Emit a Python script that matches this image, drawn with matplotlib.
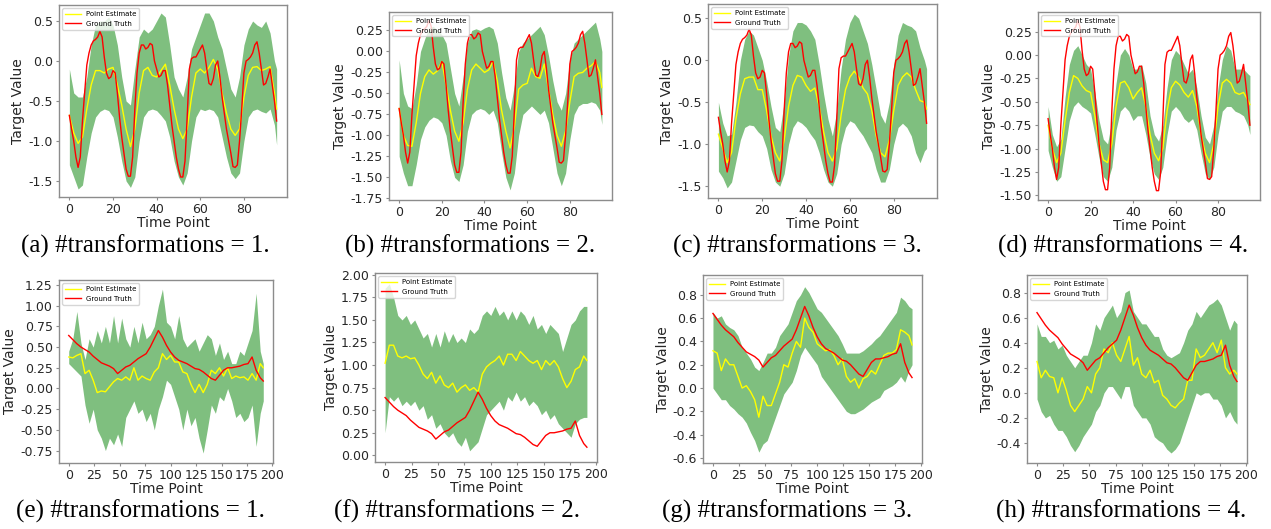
import matplotlib
matplotlib.use("Agg")
import matplotlib.pyplot as plt
from matplotlib.ticker import MultipleLocator, FormatStrFormatter

# time axes
t_top = list(range(0, 95, 2)) + [95]
t_top_gt = list(range(96))
t_bot = list(range(0, 189, 4)) + [191]

# ground truth, top row (shared by a-d)
gt_top = [-0.68, -0.85, -1.0, -1.2, -1.33, -1.2, -0.75, -0.4, -0.05, 0.1,
          0.2, 0.25, 0.27, 0.3, 0.37, 0.3, 0.05, -0.15, -0.22, -0.2,
          -0.12, -0.15, -0.4, -0.7, -0.95, -1.15, -1.35, -1.44, -1.44, -1.2,
          -0.6, -0.15, 0.1, 0.2, 0.2, 0.15, 0.17, 0.22, 0.2, 0.0,
          -0.1, -0.2, -0.18, -0.12, -0.12, -0.3, -0.55, -0.8, -1.0, -1.2,
          -1.35, -1.45, -1.45, -1.25, -0.7, -0.1, 0.03, 0.05, 0.05, 0.1,
          0.15, 0.2, 0.1, -0.1, -0.28, -0.3, -0.22, -0.05, 0.0, -0.2,
          -0.45, -0.65, -0.85, -1.0, -1.15, -1.32, -1.33, -1.3, -1.0, -0.6,
          -0.15, 0.0, 0.02, 0.05, 0.1, 0.2, 0.24, 0.1, -0.1, -0.3,
          -0.28, -0.2, -0.1, -0.3, -0.5, -0.75]

# ground truth, bottom row (shared by e-h)
gt_bot = [0.64, 0.59, 0.54, 0.5, 0.47, 0.44, 0.39, 0.35, 0.31, 0.29,
          0.27, 0.24, 0.18, 0.22, 0.26, 0.28, 0.32, 0.36, 0.39, 0.42,
          0.5, 0.6, 0.7, 0.62, 0.52, 0.44, 0.38, 0.34, 0.32, 0.3,
          0.27, 0.24, 0.23, 0.2, 0.16, 0.12, 0.1, 0.16, 0.22, 0.25,
          0.25, 0.26, 0.27, 0.29, 0.3, 0.38, 0.22, 0.13, 0.09]

# (a)
a_mean = [-0.68, -0.9, -1.03, -0.95, -0.6, -0.3, -0.12, -0.12, -0.15, -0.1,
          -0.08, -0.3, -0.55, -0.85, -1.07, -0.85, -0.4, -0.12, -0.08, -0.18,
          -0.2, -0.12, -0.04, -0.3, -0.6, -0.85, -0.97, -0.85, -0.45, -0.15,
          -0.1, -0.15, -0.08, 0.02, -0.1, -0.4, -0.65, -0.85, -0.93, -0.85,
          -0.45, -0.18, -0.08, -0.07, -0.12, -0.1, -0.07, -0.4, -0.6]
a_high = [-0.1, -0.4, -0.45, -0.45, -0.2, 0.2, 0.45, 0.5, 0.5, 0.55,
          0.45, 0.2, -0.2, -0.5, -0.55, -0.1, 0.3, 0.4, 0.35, 0.4,
          0.5, 0.6, 0.55, 0.2, -0.2, -0.35, -0.45, -0.2, 0.15, 0.3,
          0.45, 0.6, 0.6, 0.5, 0.3, 0.15, -0.1, -0.35, -0.45, -0.2,
          0.2, 0.4, 0.5, 0.45, 0.42, 0.5, 0.35, 0.0, -0.1]
a_low = [-1.3, -1.45, -1.6, -1.55, -1.2, -0.9, -0.7, -0.63, -0.6, -0.62,
         -0.7, -0.95, -1.25, -1.5, -1.58, -1.45, -1.0, -0.7, -0.62, -0.6,
         -0.62, -0.68, -0.75, -0.95, -1.25, -1.45, -1.55, -1.4, -1.0, -0.7,
         -0.6, -0.62, -0.6, -0.62, -0.7, -0.95, -1.2, -1.4, -1.47, -1.4,
         -1.0, -0.7, -0.62, -0.6, -0.63, -0.65, -0.6, -0.8, -1.05]

# (b)
b_mean = [-0.68, -1.0, -1.12, -1.13, -0.85, -0.5, -0.3, -0.22, -0.27, -0.23,
          -0.12, -0.4, -0.7, -0.95, -1.07, -0.85, -0.45, -0.22, -0.15, -0.2,
          -0.25, -0.22, -0.12, -0.35, -0.7, -0.95, -1.15, -0.9, -0.45, -0.4,
          -0.38, -0.2, -0.3, -0.32, -0.15, -0.45, -0.75, -1.0, -1.13, -0.95,
          -0.6, -0.3, -0.26, -0.25, -0.2, -0.17, -0.12, -0.25, -0.43]
b_high = [-0.1, -0.5, -0.65, -0.68, -0.4, 0.0, 0.15, 0.28, 0.3, 0.25,
          0.2, 0.1, -0.2, -0.5, -0.65, -0.3, 0.1, 0.25, 0.27, 0.25,
          0.28, 0.3, 0.27, 0.1, -0.25, -0.55, -0.7, -0.4, 0.0, 0.1,
          0.15, 0.2, 0.25, 0.3, 0.2, -0.05, -0.35, -0.6, -0.7, -0.5,
          -0.1, 0.1, 0.15, 0.2, 0.25, 0.3, 0.35, 0.15, 0.0]
b_low = [-1.25, -1.45, -1.6, -1.6, -1.35, -1.05, -0.9, -0.82, -0.78, -0.8,
         -0.85, -1.0, -1.3, -1.5, -1.55, -1.35, -0.95, -0.75, -0.7, -0.68,
         -0.7, -0.75, -0.7, -0.85, -1.2, -1.5, -1.65, -1.45, -1.0, -0.75,
         -0.7, -0.65, -0.7, -0.75, -0.7, -0.85, -1.15, -1.45, -1.6, -1.45,
         -1.05, -0.75, -0.65, -0.62, -0.62, -0.6, -0.62, -0.7, -0.87]

# (c)
c_mean = [-0.88, -1.05, -1.22, -1.1, -0.7, -0.4, -0.22, -0.2, -0.2, -0.35,
          -0.35, -0.6, -0.9, -1.1, -1.2, -0.95, -0.55, -0.3, -0.18, -0.2,
          -0.3, -0.37, -0.33, -0.55, -0.85, -1.1, -1.2, -1.05, -0.65, -0.35,
          -0.2, -0.13, -0.2, -0.33, -0.4, -0.6, -0.9, -1.1, -1.15, -0.95,
          -0.6, -0.3, -0.2, -0.15, -0.2, -0.35, -0.48, -0.5, -0.58]
c_high = [-0.5, -0.75, -0.9, -0.88, -0.5, 0.0, 0.25, 0.35, 0.3, 0.15,
          0.0, -0.25, -0.55, -0.8, -0.85, -0.5, 0.05, 0.35, 0.45, 0.45,
          0.42, 0.35, 0.25, -0.05, -0.4, -0.7, -0.9, -0.6, -0.1, 0.25,
          0.45, 0.55, 0.5, 0.35, 0.2, -0.05, -0.35, -0.65, -0.75, -0.5,
          -0.05, 0.3, 0.45, 0.42, 0.4, 0.35, 0.15, 0.0, -0.1]
c_low = [-1.32, -1.4, -1.52, -1.45, -1.2, -0.95, -0.8, -0.77, -0.78, -0.85,
         -0.9, -1.05, -1.3, -1.45, -1.5, -1.35, -1.0, -0.8, -0.72, -0.75,
         -0.8, -0.88, -0.95, -1.1, -1.3, -1.45, -1.5, -1.35, -1.0, -0.8,
         -0.72, -0.75, -0.83, -0.9, -1.0, -1.1, -1.3, -1.45, -1.45, -1.3,
         -1.0, -0.8, -0.75, -0.8, -0.9, -1.1, -1.22, -1.08, -1.05]

# (d)
d_mean = [-0.75, -1.0, -1.15, -1.05, -0.7, -0.4, -0.22, -0.25, -0.33, -0.38,
          -0.4, -0.65, -0.95, -1.12, -1.15, -0.95, -0.55, -0.3, -0.28, -0.35,
          -0.47, -0.4, -0.35, -0.55, -0.85, -1.05, -1.13, -1.0, -0.6, -0.35,
          -0.28, -0.32, -0.4, -0.45, -0.38, -0.55, -0.85, -1.05, -1.15, -0.95,
          -0.55, -0.3, -0.26, -0.3, -0.4, -0.42, -0.4, -0.48, -0.53]
d_high = [-0.55, -0.85, -0.98, -0.9, -0.45, -0.1, 0.05, 0.1, 0.0, -0.1,
          -0.15, -0.4, -0.7, -0.9, -0.95, -0.7, -0.3, 0.0, 0.07, 0.0,
          -0.15, -0.15, -0.1, -0.3, -0.65, -0.85, -0.92, -0.75, -0.35, -0.05,
          0.05, 0.0, -0.1, -0.2, -0.15, -0.35, -0.65, -0.88, -0.95, -0.75,
          -0.35, -0.05, 0.1, 0.05, -0.15, -0.15, -0.15, -0.2, -0.22]
d_low = [-1.02, -1.2, -1.35, -1.3, -1.0, -0.7, -0.55, -0.5, -0.55, -0.58,
         -0.62, -0.85, -1.1, -1.3, -1.35, -1.2, -0.8, -0.6, -0.55, -0.6,
         -0.7, -0.65, -0.65, -0.85, -1.1, -1.27, -1.33, -1.2, -0.85, -0.6,
         -0.55, -0.6, -0.68, -0.72, -0.68, -0.8, -1.05, -1.27, -1.33, -1.2,
         -0.85, -0.6, -0.55, -0.55, -0.6, -0.62, -0.65, -0.75, -0.85]

# (e)
e_mean = [0.38, 0.37, 0.4, 0.42, 0.18, 0.22, 0.1, -0.05, -0.03, -0.04,
          0.02, 0.08, 0.12, 0.1, 0.14, 0.1, 0.25, 0.1, 0.15, 0.12,
          0.1, 0.2, 0.25, 0.42, 0.35, 0.4, 0.32, 0.32, 0.2, 0.18,
          0.05, -0.05, 0.05, -0.05, 0.05, 0.22, 0.18, 0.25, 0.15, 0.25,
          0.12, 0.15, 0.13, 0.14, 0.1, 0.18, 0.1, 0.3, 0.25]
e_high = [0.45, 0.6, 0.93, 0.55, 0.35, 0.6, 0.5, 0.7, 0.55, 0.75,
          0.55, 0.88, 0.55, 0.85, 0.6, 0.5, 0.75, 0.55, 0.8, 0.6,
          0.65, 0.75, 1.0, 1.2, 0.8, 0.75, 0.6, 0.88, 0.6, 0.5,
          0.55, 0.6, 0.45, 0.55, 0.65, 0.6, 0.4, 0.55, 0.35, 0.45,
          0.3, 0.3, 0.45, 0.4, 0.55, 0.7, 1.15, 0.45, 0.3]
e_low = [0.3, 0.25, 0.2, 0.15, -0.2, -0.42, -0.25, -0.5, -0.6, -0.75,
         -0.6, -0.68, -0.55, -0.7, -0.35, -0.25, -0.15, -0.3, -0.25, -0.4,
         -0.3, -0.5, -0.25, -0.1, 0.1, 0.05, -0.1, -0.25, -0.5, -0.25,
         -0.45, -0.35, -0.6, -0.78, -0.5, -0.2, -0.3, -0.1, -0.15, 0.0,
         -0.15, -0.35, -0.3, -0.4, -0.35, -0.2, -0.7, -0.3, -0.15]

# (f)
f_mean = [1.02, 1.22, 1.22, 1.1, 1.08, 1.1, 1.07, 1.08, 1.0, 0.9,
          0.85, 0.92, 0.8, 0.88, 0.78, 0.75, 0.8, 0.7, 0.75, 0.78,
          0.72, 0.75, 0.7, 0.9, 0.98, 1.02, 1.05, 1.1, 1.0, 1.12,
          1.12, 1.05, 1.15, 1.1, 1.05, 1.02, 1.05, 0.95, 1.05, 1.0,
          1.05, 0.98, 0.85, 0.75, 0.82, 0.95, 0.98, 1.1, 1.05]
f_high = [1.85, 1.9, 1.75, 1.55, 1.5, 1.55, 1.45, 1.5, 1.4, 1.3,
          1.35, 1.2, 1.35, 1.2, 1.38, 1.25, 1.35, 1.25, 1.3, 1.25,
          1.4, 1.35, 1.4, 1.55, 1.6, 1.55, 1.65, 1.55, 1.6, 1.5,
          1.6, 1.5, 1.6, 1.55, 1.45, 1.55, 1.4, 1.45, 1.35, 1.45,
          1.4, 1.35, 1.15, 1.3, 1.45, 1.5, 1.6, 1.65, 1.65]
f_low = [0.25, 0.65, 0.6, 0.65, 0.55, 0.6, 0.55, 0.6, 0.5, 0.55,
         0.4, 0.45, 0.3, 0.35, 0.25, 0.2, 0.25, 0.15, 0.1, 0.2,
         0.05, 0.1, 0.15, 0.3, 0.45, 0.5, 0.55, 0.6, 0.5, 0.65,
         0.6, 0.7, 0.6, 0.65, 0.55, 0.6, 0.55, 0.45, 0.5, 0.4,
         0.45, 0.35, 0.3, 0.25, 0.2, 0.35, 0.4, 0.42, 0.42]

# (g)
g_mean = [0.32, 0.3, 0.15, 0.25, 0.2, 0.2, 0.1, 0.0, 0.02, -0.03,
          -0.1, -0.25, -0.07, -0.15, -0.15, -0.05, 0.05, 0.2, 0.18, 0.3,
          0.4, 0.35, 0.6, 0.52, 0.48, 0.38, 0.35, 0.32, 0.33, 0.28,
          0.2, 0.25, 0.1, 0.05, 0.08, 0.0, 0.08, 0.1, 0.15, 0.12,
          0.2, 0.28, 0.3, 0.3, 0.33, 0.5, 0.48, 0.45, 0.37]
g_high = [0.65, 0.6, 0.62, 0.55, 0.52, 0.5, 0.45, 0.35, 0.3, 0.25,
          0.18, 0.15, 0.22, 0.3, 0.3, 0.35, 0.45, 0.5, 0.55, 0.65,
          0.75, 0.8, 0.87, 0.82, 0.75, 0.68, 0.65, 0.6, 0.55, 0.5,
          0.45, 0.38, 0.3, 0.3, 0.3, 0.3, 0.32, 0.35, 0.38, 0.42,
          0.45, 0.5, 0.55, 0.6, 0.65, 0.78, 0.75, 0.7, 0.68]
g_low = [0.0, -0.05, -0.1, -0.1, -0.15, -0.18, -0.22, -0.25, -0.3, -0.38,
         -0.45, -0.55, -0.48, -0.45, -0.35, -0.25, -0.15, -0.05, 0.0, 0.05,
         0.15, 0.28, 0.35, 0.3, 0.25, 0.2, 0.1, 0.05, 0.0, -0.05,
         -0.1, -0.15, -0.2, -0.22, -0.22, -0.2, -0.18, -0.15, -0.12, -0.1,
         -0.08, -0.02, 0.0, 0.02, 0.05, 0.1, 0.05, 0.15, 0.2]

# (h)
h_mean = [0.25, 0.12, 0.18, 0.13, 0.12, 0.0, 0.12, 0.02, -0.1, -0.15,
          -0.1, -0.05, 0.05, 0.0, 0.15, 0.2, 0.35, 0.32, 0.4, 0.3,
          0.25, 0.35, 0.45, 0.22, 0.28, 0.15, 0.12, 0.18, 0.08, 0.1,
          -0.02, -0.05, -0.1, -0.12, -0.08, -0.05, 0.1, 0.1, 0.35, 0.28,
          0.3, 0.35, 0.4, 0.32, 0.42, 0.2, 0.15, 0.18, 0.15]
h_high = [0.55, 0.45, 0.45, 0.4, 0.42, 0.35, 0.38, 0.3, 0.25, 0.2,
          0.25, 0.3, 0.3, 0.4, 0.55, 0.5, 0.6, 0.65, 0.7, 0.6,
          0.65, 0.8, 0.82, 0.65, 0.6, 0.55, 0.55, 0.5, 0.45, 0.45,
          0.35, 0.3, 0.28, 0.3, 0.32, 0.4, 0.5, 0.55, 0.65, 0.6,
          0.65, 0.7, 0.72, 0.75, 0.7, 0.6, 0.5, 0.58, 0.55]
h_low = [-0.05, -0.15, -0.2, -0.18, -0.25, -0.3, -0.3, -0.35, -0.42, -0.47,
         -0.42, -0.35, -0.3, -0.25, -0.15, -0.1, 0.0, 0.05, 0.05, 0.0,
         -0.05, 0.05, 0.05, -0.1, -0.15, -0.2, -0.2, -0.25, -0.35, -0.38,
         -0.4, -0.45, -0.48, -0.45, -0.4, -0.3, -0.2, -0.1, 0.0, -0.02,
         0.0, 0.0, -0.05, -0.05, -0.1, -0.2, -0.15, -0.22, -0.25]

captions = ["(a) #transformations = 1.", "(b) #transformations = 2.",
            "(c) #transformations = 3.", "(d) #transformations = 4.",
            "(e) #transformations = 1.", "(f) #transformations = 2.",
            "(g) #transformations = 3.", "(h) #transformations = 4."]

W, H = 1271, 529

# axes boxes in pixels: left, top, right, bottom
boxes = [(59, 5, 287, 197), (389, 12, 612, 200), (708, 4, 937, 198), (1038, 12, 1260, 200),
         (59, 280, 273, 463), (375, 273, 597, 462), (703, 275, 922, 463), (1027, 275, 1247, 463)]
cap_pos = [(145, 246), (470, 246), (797, 246), (1123, 246),
           (140, 511), (457, 511), (787, 511), (1121, 511)]
ylims = [(-1.70, 0.70), (-1.77, 0.47), (-1.64, 0.67), (-1.55, 0.46),
         (-0.90, 1.31), (-0.074, 2.02), (-0.643, 0.97), (-0.56, 0.94)]
ysteps = [0.5, 0.25, 0.5, 0.25, 0.25, 0.25, 0.2, 0.2]
yfmt = ['%.1f', '%.2f', '%.1f', '%.2f', '%.2f', '%.2f', '%.1f', '%.1f']

panels = [(t_top, a_mean, a_low, a_high, t_top_gt, gt_top),
          (t_top, b_mean, b_low, b_high, t_top_gt, gt_top),
          (t_top, c_mean, c_low, c_high, t_top_gt, gt_top),
          (t_top, d_mean, d_low, d_high, t_top_gt, gt_top),
          (t_bot, e_mean, e_low, e_high, t_bot, gt_bot),
          (t_bot, f_mean, f_low, f_high, t_bot, gt_bot),
          (t_bot, g_mean, g_low, g_high, t_bot, gt_bot),
          (t_bot, h_mean, h_low, h_high, t_bot, gt_bot)]

fig = plt.figure(figsize=(W / 100, H / 100), dpi=100)

for i, (t, mean, low, high, tg, gt) in enumerate(panels):
    l, tp, r, b = boxes[i]
    ax = fig.add_axes([l / W, 1 - b / H, (r - l) / W, (b - tp) / H])
    ax.fill_between(t, low, high, color='g', alpha=0.5, linewidth=0)
    ax.plot(t, mean, color='yellow', linewidth=1.0, label='Point Estimate')
    ax.plot(tg, gt, color='red', linewidth=1.0, label='Ground Truth')

    if i < 4:
        ax.set_xlim(-4.75, 99.75)
        ax.xaxis.set_major_locator(MultipleLocator(20))
    else:
        ax.set_xlim(-9.55, 200.55)
        ax.xaxis.set_major_locator(MultipleLocator(25))
    ax.set_ylim(*ylims[i])
    ax.yaxis.set_major_locator(MultipleLocator(ysteps[i]))
    ax.yaxis.set_major_formatter(FormatStrFormatter(yfmt[i]))

    ax.set_xlabel('Time Point', fontsize=10, color='#262626', labelpad=0)
    ax.set_ylabel('Target Value', fontsize=10, color='#262626', labelpad=2)
    ax.tick_params(labelsize=9, length=2.5, width=0.8, pad=2,
                   color='#8c8c8c', labelcolor='#262626')
    for s in ax.spines.values():
        s.set_color('#8c8c8c')
        s.set_linewidth(1.0)
    ax.legend(loc='upper left', fontsize=5, frameon=True, edgecolor='#cccccc',
              borderpad=0.4, handlelength=2.2)
    cx, cy = cap_pos[i]
    fig.text(cx / W, 1 - cy / H, captions[i], ha='center', va='center',
             fontsize=18, family='Liberation Serif')

fig.savefig('out.png', dpi=100)
